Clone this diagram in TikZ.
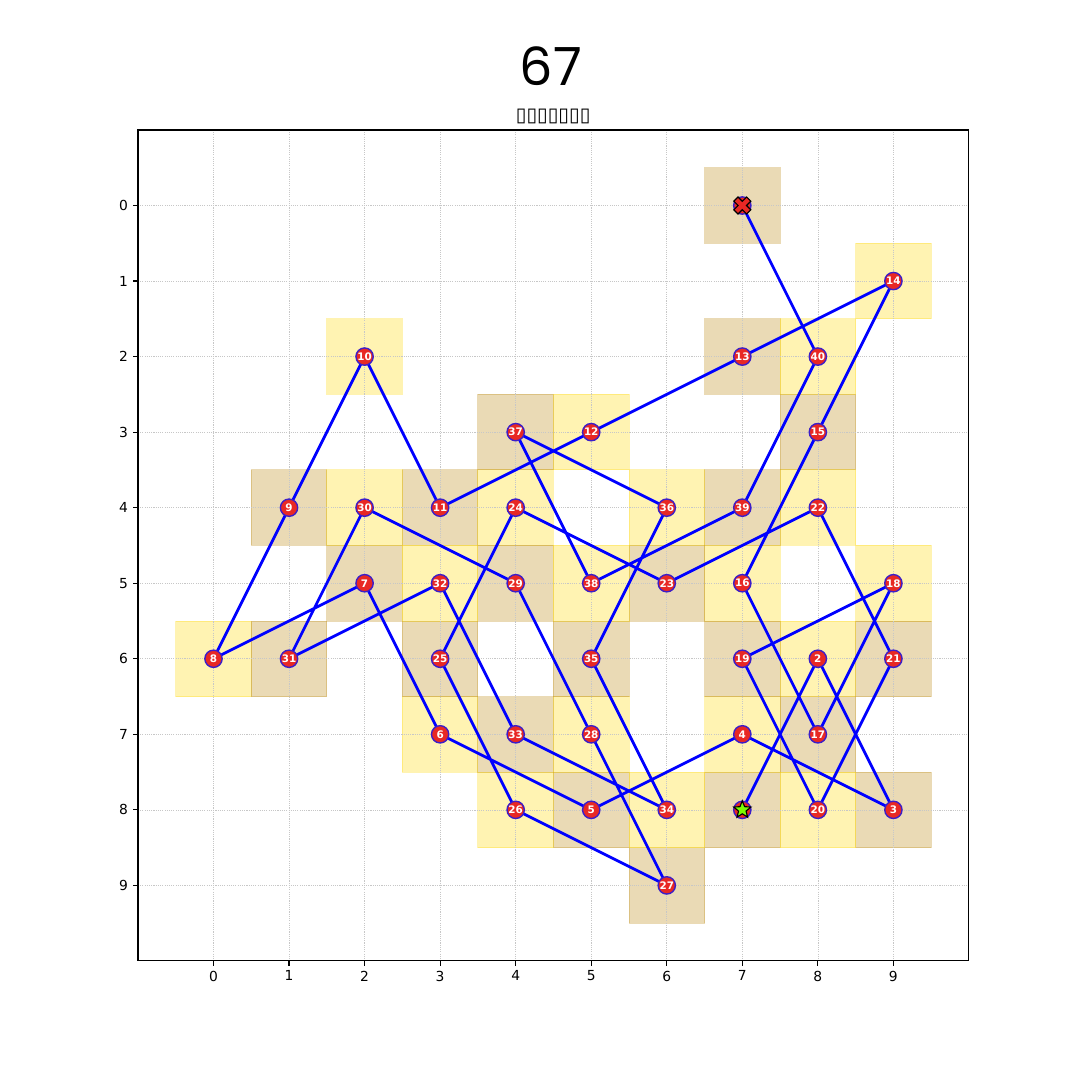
\documentclass[tikz,border=0pt]{standalone}
\usepackage{fontspec}
\setmainfont{DejaVu Sans}
\newfontfamily\titlefont{Poppins}
\usetikzlibrary{shapes.geometric}
\definecolor{cellgold}{RGB}{255,215,0}
\definecolor{celltan}{RGB}{184,134,11}
\definecolor{markred}{RGB}{232,40,36}
\definecolor{markedge}{RGB}{60,30,200}
\definecolor{startgreen}{RGB}{124,252,0}
\tikzset{
  cell0/.style = {rectangle, minimum size=1.9188cm, inner sep=0pt, fill=cellgold, draw=cellgold, opacity=0.3, line width=0.7pt},
  cell1/.style = {rectangle, minimum size=1.9188cm, inner sep=0pt, fill=celltan, draw=celltan, opacity=0.3, line width=0.7pt},
  gridline/.style = {black!22, line width=0.5pt, dash pattern=on 0.8pt off 0.8pt},
  frame/.style = {black, line width=0.8pt},
  ticklabel/.style = {font=\fontsize{10}{12}\selectfont, inner sep=0pt},
  tour/.style = {draw=blue, line width=2pt, line join=round},
  stop/.style = {circle, fill=markred, draw=markedge, line width=1pt, minimum size=0.44cm, inner sep=0pt, text=white, font=\bfseries\fontsize{7.5}{7.5}\selectfont},
  startstar/.style = {star, star points=5, star point ratio=2.3, fill=startgreen, draw=black, line width=0.8pt, minimum size=0.46cm, inner sep=0pt},
  endcross/.style = {fill=markred, draw=black, line width=0.8pt, line join=miter}
}

\begin{document}
\begin{tikzpicture}

    \useasboundingbox (0,0) rectangle (27.432,-27.432);

    % Titles
    \node[font=\titlefont\fontsize{38}{38}\selectfont] (title) at (13.995,-1.676) {67};
    \node[font=\fontsize{14}{16}\selectfont] (subtitle) at (14.05,-2.97) {▯▯▯▯▯▯▯};

  \begin{scope}[shift={(5.4229,-5.2197)}, x=1.9188cm, y=-1.9188cm]

    % Visited cells, shaded by colour of the square
    \foreach \cx/\cy [count=\i] in {7/8, 8/6, 9/8, 7/7, 5/8, 3/7, 2/5, 0/6, 1/4, 2/2,
        3/4, 5/3, 7/2, 9/1, 8/3, 7/5, 8/7, 9/5, 7/6, 8/8,
        9/6, 8/4, 6/5, 4/4, 3/6, 4/8, 6/9, 5/7, 4/5, 2/4,
        1/6, 3/5, 4/7, 6/8, 5/6, 6/4, 4/3, 5/5, 7/4, 8/2, 7/0} {
      \coordinate (t\i) at (\cx,\cy);
      \pgfmathtruncatemacro\shade{mod(\cx+\cy,2)}
      \node[cell\shade] (sq\i) at (t\i) {};
    }

    % Grid and frame
    \foreach \k in {0,...,9} {
      \draw[gridline] (\k,-1) -- (\k,10);
      \draw[gridline] (-1,\k) -- (10,\k);
    }
    \draw[frame] (-1,-1) rectangle (10,10);

    % Ticks
    \foreach \k in {0,...,9} {
      \draw[frame] (\k,10) -- ++(0,-3.5pt);
      \draw[frame] (-1,\k) -- ++(-3.5pt,0);
      \node[ticklabel, anchor=north] (xl\k) at ([yshift=-7pt]\k,10) {\k};
      \node[ticklabel, anchor=east] (yl\k) at ([xshift=-7pt]-1,\k) {\k};
    }

    % Knight's tour
    \draw[tour] (t1) \foreach \i in {2,...,41} { -- (t\i) };

    % Stops
    \foreach \i in {2,...,40} {
      \node[stop] (n\i) at (t\i) {\i};
    }
    \node[stop] (n1) at (t1) {};
    \node[startstar] (start) at (t1) {};
    \node[stop] (n41) at (t41) {};
    \draw[endcross, shift={(n41.center)}, rotate=45]
      (0.075cm,0.23cm) -- (-0.075cm,0.23cm) -- (-0.075cm,0.075cm) -- (-0.23cm,0.075cm)
      -- (-0.23cm,-0.075cm) -- (-0.075cm,-0.075cm) -- (-0.075cm,-0.23cm) -- (0.075cm,-0.23cm)
      -- (0.075cm,-0.075cm) -- (0.23cm,-0.075cm) -- (0.23cm,0.075cm) -- (0.075cm,0.075cm) -- cycle;

  \end{scope}

  \end{tikzpicture}
\end{document}
